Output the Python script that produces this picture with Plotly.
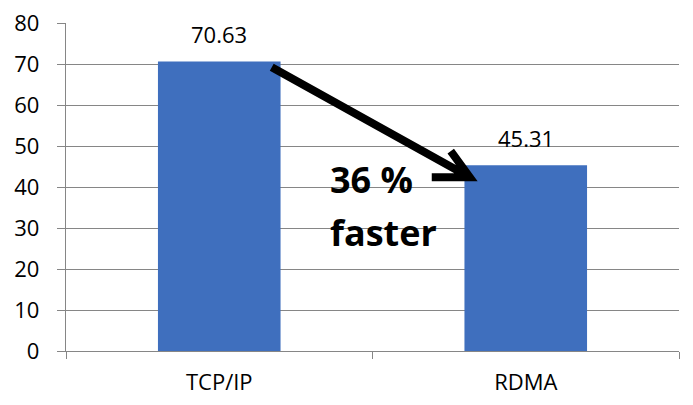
import plotly.graph_objects as go

# Data
categories = ["TCP/IP", "RDMA"]
latency = [70.63, 45.31]
y_ticks = [0, 10, 20, 30, 40, 50, 60, 70, 80]
callout_lines = ["36 %", "faster"]

BAR_COLOR = "#3F6FBE"
GRID_COLOR = "#868686"
FONT = "Open Sans, Noto Sans, sans-serif"

fig = go.Figure()
fig.add_trace(go.Bar(
    x=categories,
    y=latency,
    marker=dict(color=BAR_COLOR, line=dict(width=0)),
    hoverinfo="skip",
))

# Value labels above each bar
for cat, val in zip(categories, latency):
    fig.add_annotation(
        x=cat, y=val, xref="x", yref="y",
        text=f"{val:.2f}", showarrow=False,
        xanchor="center", yanchor="middle", yshift=27,
        font=dict(family=FONT, size=22, color="#000000"),
    )

# Callout text
fig.add_annotation(
    x=0.428, y=0.522, xref="paper", yref="paper",
    text=f"<b>{callout_lines[0]}</b>", showarrow=False,
    xanchor="left", yanchor="middle",
    font=dict(family=FONT, size=36, color="#000000"),
)
fig.add_annotation(
    x=0.428, y=0.36, xref="paper", yref="paper",
    text=f"<b>{callout_lines[1]}</b>", showarrow=False,
    xanchor="left", yanchor="middle",
    font=dict(family=FONT, size=36, color="#000000"),
)

# Arrow from the TCP/IP bar down to the RDMA bar (pixel offsets from the RDMA bar top)
fig.add_shape(
    type="path",
    xref="x", yref="y",
    xsizemode="pixel", ysizemode="pixel",
    xanchor=categories[1], yanchor=latency[1],
    path="M -254,98 L -56,-12 M -75,14 L -56,-12 L -94,-12",
    line=dict(color="#000000", width=8),
    fillcolor="rgba(0,0,0,0)",
    layer="above",
)

fig.update_layout(
    width=693, height=405,
    margin=dict(l=66, r=14, t=23, b=54, autoexpand=False),
    paper_bgcolor="white", plot_bgcolor="white",
    showlegend=False,
    bargap=0.6,
    font=dict(family=FONT, size=22, color="#000000"),
)
fig.update_xaxes(
    type="category",
    automargin=False,
    tickson="boundaries",
    ticks="outside", ticklen=7, tickwidth=1.3, tickcolor=GRID_COLOR,
    showline=True, linecolor=GRID_COLOR, linewidth=1.3,
    showgrid=False, zeroline=False,
    tickfont=dict(family=FONT, size=22, color="#000000"),
    ticklabelstandoff=11,
)
fig.update_yaxes(
    range=[0, 80],
    automargin=False,
    tickvals=y_ticks,
    ticks="outside", ticklen=8, tickwidth=1.3, tickcolor=GRID_COLOR,
    showline=True, linecolor=GRID_COLOR, linewidth=1.3,
    showgrid=True, gridcolor=GRID_COLOR, gridwidth=1.2,
    zeroline=False,
    tickfont=dict(family=FONT, size=22, color="#000000"),
    ticklabelstandoff=13,
)

fig.write_html("out.html")
